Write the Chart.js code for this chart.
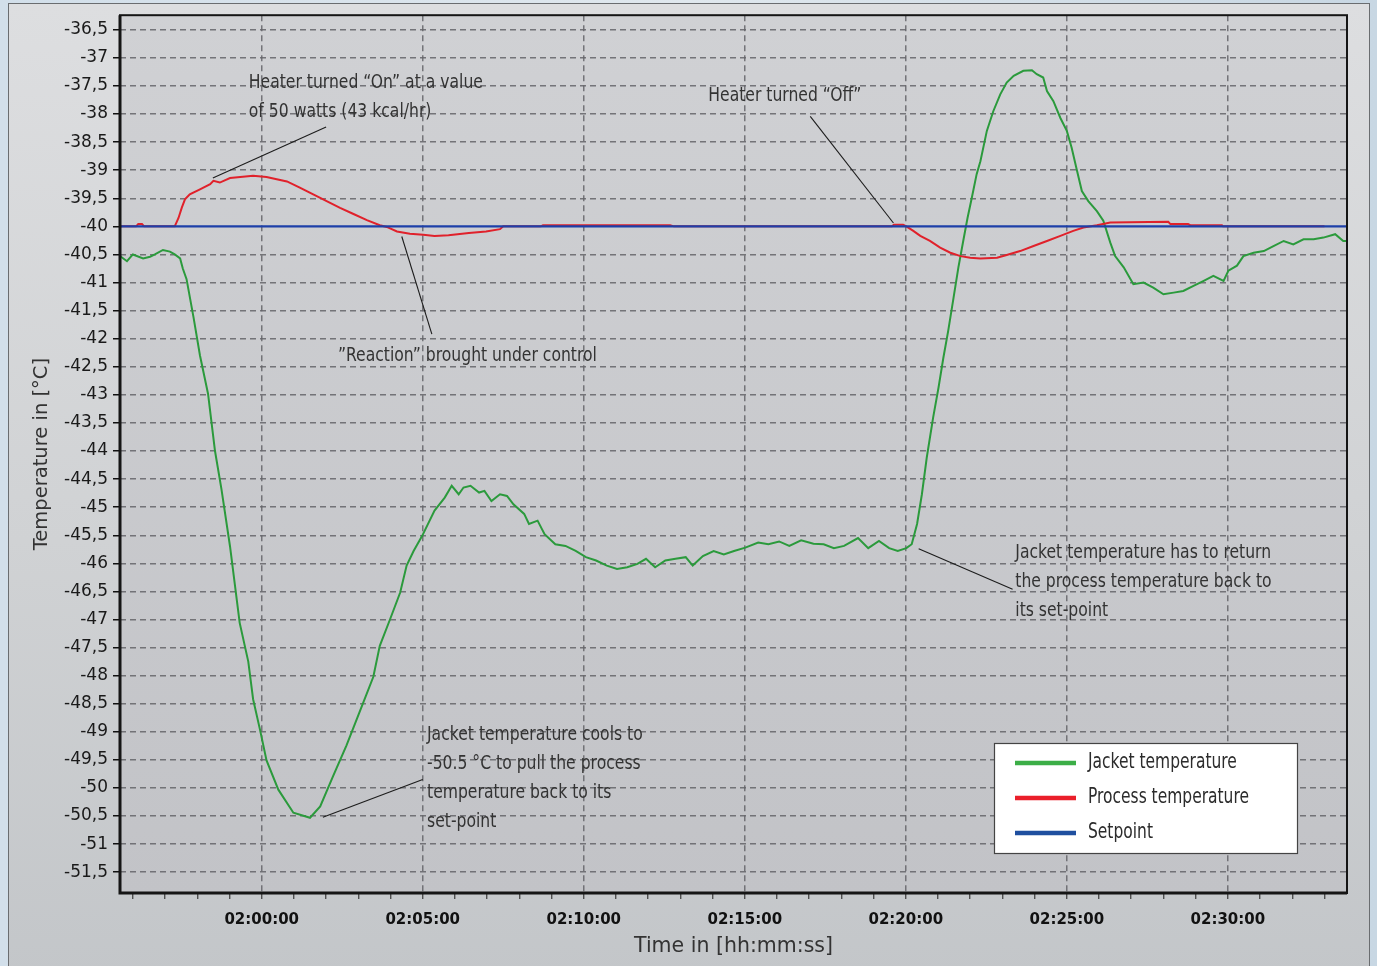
<!DOCTYPE html>
<html><head><meta charset="utf-8">
<script src="https://cdn.jsdelivr.net/npm/chart.js@4.4.1/dist/chart.umd.min.js"></script>
<style>
html,body{margin:0;padding:0;width:1377px;height:966px;overflow:hidden;background:linear-gradient(90deg,#d2dfea 0%,#e0e8ee 50%,#c8d7e3 100%);}
#panel{position:absolute;left:8px;top:3px;width:1360px;height:975px;border:1px solid #6a6d70;background:linear-gradient(180deg,#dddee0 0%,#d0d2d4 55%,#c3c6c9 100%);}
#wrap{position:absolute;left:0;top:0;width:1377px;height:966px;}
canvas{display:block;}
</style></head><body>
<div id="panel"></div>
<div id="wrap"><canvas id="c" width="1377" height="966" style="width:1377px;height:966px"></canvas></div>
<script>
// ---------- DATA ----------
const seriesNames = ["Jacket temperature", "Process temperature", "Setpoint"];

const jacketTimes = ["01:55:36","01:55:49","01:56:00","01:56:19","01:56:32","01:56:41","01:56:56","01:57:09","01:57:18","01:57:28","01:57:33","01:57:40","01:57:53","01:58:05","01:58:20","01:58:33","01:58:45","01:59:01","01:59:19","01:59:35","01:59:44","01:59:57","02:00:09","02:00:31","02:00:59","02:01:30","02:01:49","02:02:13","02:02:38","02:03:03","02:03:28","02:03:40","02:03:59","02:04:18","02:04:30","02:04:43","02:04:59","02:05:22","02:05:41","02:05:54","02:06:07","02:06:16","02:06:29","02:06:45","02:06:55","02:07:08","02:07:24","02:07:37","02:07:49","02:08:09","02:08:18","02:08:34","02:08:47","02:09:07","02:09:26","02:09:45","02:10:04","02:10:23","02:10:43","02:11:02","02:11:21","02:11:40","02:11:56","02:12:13","02:12:32","02:12:51","02:13:10","02:13:23","02:13:42","02:14:02","02:14:21","02:14:40","02:15:01","02:15:25","02:15:44","02:16:04","02:16:23","02:16:45","02:17:08","02:17:27","02:17:46","02:18:05","02:18:31","02:18:50","02:19:10","02:19:29","02:19:45","02:20:01","02:20:11","02:20:21","02:20:30","02:20:39","02:20:51","02:21:01","02:21:10","02:21:19","02:21:29","02:21:38","02:21:47","02:21:55","02:22:03","02:22:12","02:22:19","02:22:31","02:22:43","02:22:56","02:23:08","02:23:21","02:23:39","02:23:55","02:24:04","02:24:16","02:24:23","02:24:35","02:24:48","02:25:00","02:25:09","02:25:19","02:25:28","02:25:40","02:25:56","02:26:08","02:26:21","02:26:30","02:26:46","02:27:04","02:27:23","02:27:41","02:28:00","02:28:19","02:28:37","02:28:56","02:29:15","02:29:33","02:29:52","02:30:01","02:30:17","02:30:29","02:30:48","02:31:07","02:31:25","02:31:44","02:32:02","02:32:21","02:32:40","02:32:58","02:33:20","02:33:35","02:33:42"];
const jacketValues = [-40.53,-40.62,-40.50,-40.57,-40.54,-40.50,-40.42,-40.45,-40.50,-40.57,-40.75,-40.94,-41.62,-42.30,-42.98,-44.00,-44.68,-45.70,-47.06,-47.75,-48.42,-48.97,-49.51,-50.03,-50.44,-50.53,-50.33,-49.79,-49.24,-48.63,-48.02,-47.47,-47.00,-46.52,-46.04,-45.78,-45.51,-45.06,-44.83,-44.62,-44.77,-44.65,-44.62,-44.74,-44.71,-44.89,-44.77,-44.80,-44.95,-45.12,-45.30,-45.24,-45.48,-45.66,-45.69,-45.78,-45.89,-45.95,-46.04,-46.10,-46.07,-46.01,-45.92,-46.07,-45.95,-45.92,-45.89,-46.04,-45.87,-45.78,-45.84,-45.78,-45.72,-45.63,-45.66,-45.61,-45.69,-45.59,-45.65,-45.66,-45.73,-45.69,-45.55,-45.73,-45.60,-45.73,-45.78,-45.73,-45.66,-45.30,-44.77,-44.12,-43.40,-42.87,-42.34,-41.86,-41.27,-40.73,-40.26,-39.85,-39.49,-39.07,-38.84,-38.30,-37.95,-37.65,-37.44,-37.32,-37.23,-37.22,-37.29,-37.35,-37.59,-37.77,-38.07,-38.30,-38.60,-39.01,-39.37,-39.55,-39.73,-39.90,-40.29,-40.53,-40.73,-41.03,-41.00,-41.09,-41.21,-41.18,-41.15,-41.06,-40.97,-40.88,-40.97,-40.79,-40.70,-40.53,-40.47,-40.44,-40.35,-40.26,-40.32,-40.23,-40.23,-40.20,-40.14,-40.26,-40.26];

const processTimes = ["01:55:36","01:56:06","01:56:10","01:56:17","01:56:21","01:57:18","01:57:25","01:57:31","01:57:37","01:57:46","01:58:05","01:58:24","01:58:30","01:58:42","01:59:01","01:59:20","01:59:44","02:00:09","02:00:28","02:00:47","02:01:11","02:01:36","02:02:01","02:02:26","02:02:51","02:03:16","02:03:40","02:03:53","02:04:12","02:04:36","02:05:01","02:05:22","02:05:48","02:06:26","02:06:58","02:07:24","02:07:30","02:08:40","02:08:44","02:12:41","02:12:48","02:19:34","02:19:38","02:19:55","02:20:01","02:20:14","02:20:27","02:20:45","02:21:04","02:21:23","02:21:42","02:22:00","02:22:19","02:22:50","02:23:08","02:23:33","02:23:58","02:24:23","02:24:48","02:25:12","02:25:31","02:25:56","02:26:21","02:28:09","02:28:13","02:28:46","02:28:50","02:29:49","02:29:51","02:33:00"];
const processValues = [-40.00,-40.00,-39.96,-39.96,-40.00,-40.00,-39.85,-39.67,-39.52,-39.43,-39.34,-39.25,-39.19,-39.22,-39.14,-39.12,-39.10,-39.12,-39.16,-39.20,-39.31,-39.43,-39.55,-39.67,-39.78,-39.89,-39.98,-40.01,-40.09,-40.13,-40.15,-40.17,-40.16,-40.12,-40.09,-40.05,-40.00,-40.00,-39.98,-39.98,-40.00,-40.00,-39.97,-39.97,-40.00,-40.08,-40.17,-40.26,-40.38,-40.47,-40.53,-40.56,-40.57,-40.56,-40.51,-40.44,-40.35,-40.26,-40.17,-40.08,-40.02,-39.98,-39.93,-39.92,-39.96,-39.96,-39.98,-39.98,-40.00,-40.00];

const setpointTimes = ["01:55:36","02:33:42"];
const setpointValues = [-40, -40];

const xTickLabels = ["02:00:00","02:05:00","02:10:00","02:15:00","02:20:00","02:25:00","02:30:00"];
const yTickValues = [-36.5,-37,-37.5,-38,-38.5,-39,-39.5,-40,-40.5,-41,-41.5,-42,-42.5,-43,-43.5,-44,-44.5,-45,-45.5,-46,-46.5,-47,-47.5,-48,-48.5,-49,-49.5,-50,-50.5,-51,-51.5];
const xRange = ["01:55:36","02:33:42"];
const yRange = [-51.87, -36.24];
const minorStepSeconds = 60;

const notes = [
  {at:["01:59:36",-37.45], lines:["Heater turned \u201cOn\u201d at a value","of 50 watts (43 kcal/hr)"]},
  {at:["02:13:52",-37.68], lines:["Heater turned \u201cOff\u201d"]},
  {at:["02:02:22",-42.31], lines:["\u201dReaction\u201d brought under control"]},
  {at:["02:05:08",-49.05], lines:["Jacket temperature cools to","-50.5 \u00b0C to pull the process","temperature back to its","set-point"]},
  {at:["02:23:24",-45.81], lines:["Jacket temperature has to return","the process temperature back to","its set-point"]}
];
const leaders = [
  {from:["02:02:00",-38.23], to:["01:58:29",-39.14]},
  {from:["02:17:02",-38.04], to:["02:19:37",-39.94]},
  {from:["02:05:17",-41.92], to:["02:04:21",-40.18]},
  {from:["02:05:00",-49.85], to:["02:01:54",-50.52]},
  {from:["02:20:24",-45.74], to:["02:23:19",-46.46]}
];

// ---------- HELPERS ----------
function toSec(s){const p=s.split(':').map(Number);return p[0]*3600+p[1]*60+p[2];}
function pts(times, vals){return times.map((t,i)=>({x:toSec(t), y:vals[i]}));}
const labelBySec = {}; xTickLabels.forEach(l=>labelBySec[toSec(l)]=l);

const colors = {jacket:'#2b9a3c', process:'#e0212b', setpoint:'#1d3fa8'};
const legendColors = ['#3cae47','#ea1f2a','#1f4f9f'];
const noteFont = '19.5px "Liberation Sans Narrow", "DejaVu Sans Condensed", sans-serif';
const noteSqueeze = 0.89;
const gridColor = 'rgba(100,100,104,0.85)';

const bgPlugin = {
  id:'bg',
  beforeDraw(chart){
    const {ctx, chartArea:a} = chart;
    const g = ctx.createLinearGradient(0,a.top,0,a.bottom);
    g.addColorStop(0,'#d0d1d4'); g.addColorStop(1,'#c2c3c7');
    ctx.save(); ctx.fillStyle=g; ctx.fillRect(a.left,a.top,a.right-a.left,a.bottom-a.top); ctx.restore();
  }
};
function squeezedText(ctx, text, px, py, k){
  ctx.save(); ctx.translate(px,py); ctx.scale(k,1); ctx.fillText(text,0,0); ctx.restore();
}
const framePlugin = {
  id:'frame',
  afterDatasetsDraw(chart){
    const {ctx, chartArea:a, scales:{x,y}} = chart;
    ctx.save();
    ctx.strokeStyle='#151515';
    ctx.lineWidth=2; ctx.strokeRect(a.left,a.top,a.right-a.left,a.bottom-a.top);
    ctx.lineWidth=3;
    ctx.beginPath(); ctx.moveTo(a.left,a.top); ctx.lineTo(a.left,a.bottom); ctx.lineTo(a.right,a.bottom); ctx.stroke();
    // leader lines
    ctx.strokeStyle='#1c1c1c'; ctx.lineWidth=1.1;
    leaders.forEach(l=>{
      ctx.beginPath();
      ctx.moveTo(x.getPixelForValue(toSec(l.from[0])), y.getPixelForValue(l.from[1]));
      ctx.lineTo(x.getPixelForValue(toSec(l.to[0])), y.getPixelForValue(l.to[1]));
      ctx.stroke();
    });
    // notes
    ctx.font = noteFont; ctx.fillStyle='#333333'; ctx.textBaseline='middle'; ctx.textAlign='left';
    notes.forEach(n=>{
      const px = x.getPixelForValue(toSec(n.at[0])), py = y.getPixelForValue(n.at[1]);
      n.lines.forEach((ln,i)=>squeezedText(ctx, ln, px, py + i*29, noteSqueeze));
    });
    ctx.restore();
  }
};
const legendPlugin = {
  id:'boxLegend',
  afterDraw(chart){
    const {ctx, chartArea:a} = chart;
    const bx = a.right-353, by = a.bottom-150, bw=303, bh=110;
    ctx.save();
    ctx.fillStyle='#ffffff'; ctx.fillRect(bx,by,bw,bh);
    ctx.strokeStyle='#444'; ctx.lineWidth=1.2; ctx.strokeRect(bx+0.5,by+0.5,bw,bh);
    ctx.font = '20.5px "Liberation Sans Narrow", "DejaVu Sans Condensed", sans-serif';
    ctx.textBaseline='middle'; ctx.textAlign='left';
    seriesNames.forEach((nm,i)=>{
      const yy = by + 20 + i*35;
      ctx.strokeStyle=legendColors[i]; ctx.lineWidth=4.5;
      ctx.beginPath(); ctx.moveTo(bx+21,yy); ctx.lineTo(bx+82,yy); ctx.stroke();
      ctx.fillStyle='#2c2c2c'; squeezedText(ctx, nm, bx+94, yy, 0.84);
    });
    ctx.restore();
  }
};

new Chart(document.getElementById('c'), {
  type:'line',
  data:{
    datasets:[
      {label:seriesNames[2], data:pts(setpointTimes,setpointValues), borderColor:colors.setpoint, borderWidth:2.2, pointRadius:0, order:0},
      {label:seriesNames[1], data:pts(processTimes,processValues), borderColor:colors.process, borderWidth:2, pointRadius:0, order:1},
      {label:seriesNames[0], data:pts(jacketTimes,jacketValues), borderColor:colors.jacket, borderWidth:2, pointRadius:0, order:2}
    ]
  },
  options:{
    responsive:false, animation:false, devicePixelRatio:1,
    layout:{padding:{top:14, right:30, left:0, bottom:0}},
    plugins:{legend:{display:false}, tooltip:{enabled:false}},
    elements:{line:{tension:0}},
    scales:{
      x:{
        type:'linear', min:toSec(xRange[0]), max:toSec(xRange[1]),
        afterBuildTicks:s=>{
          const t=[]; const first=Math.ceil(s.min/minorStepSeconds)*minorStepSeconds;
          for(let v=first; v<=s.max; v+=minorStepSeconds) t.push({value:v});
          s.ticks=t;
        },
        afterFit:s=>{ s.height=73; },
        grid:{
          color:c=>(c.tick && labelBySec[c.tick.value]) ? gridColor : 'rgba(0,0,0,0)',
          lineWidth:1.5, tickColor:'#3a3a3a', tickWidth:1.2, tickLength:6
        },
        border:{display:false, dash:[6,4]},
        ticks:{
          autoSkip:false, maxRotation:0, color:'#111', padding:12,
          font:{family:'DejaVu Sans', size:15, weight:'bold'},
          callback:v=>labelBySec[v]||''
        },
        title:{display:true, text:'Time in [hh:mm:ss]', color:'#333', font:{family:'DejaVu Sans', size:20.5}, padding:{top:0,bottom:7}}
      },
      y:{
        min:yRange[0], max:yRange[1],
        afterBuildTicks:s=>{ s.ticks=yTickValues.map(v=>({value:v})); },
        afterFit:s=>{ s.width=120; },
        grid:{
          // the grid line under the setpoint is hidden by the setpoint line in the original
          color:c=>(c.tick && setpointValues.includes(c.tick.value)) ? 'rgba(0,0,0,0)' : gridColor,
          lineWidth:1.5, tickColor:'#111', tickWidth:1.5, tickLength:7
        },
        border:{display:false, dash:[6,4]},
        ticks:{color:'#1a1a1a', padding:5, font:{family:'DejaVu Sans', size:17}, callback:v=>String(v).replace('.',',')},
        title:{display:true, text:'Temperature in [\u00b0C]', color:'#333', font:{family:'DejaVu Sans', size:19.5}, padding:{top:30,bottom:0}}
      }
    }
  },
  plugins:[bgPlugin, framePlugin, legendPlugin]
});
</script>
</body></html>
